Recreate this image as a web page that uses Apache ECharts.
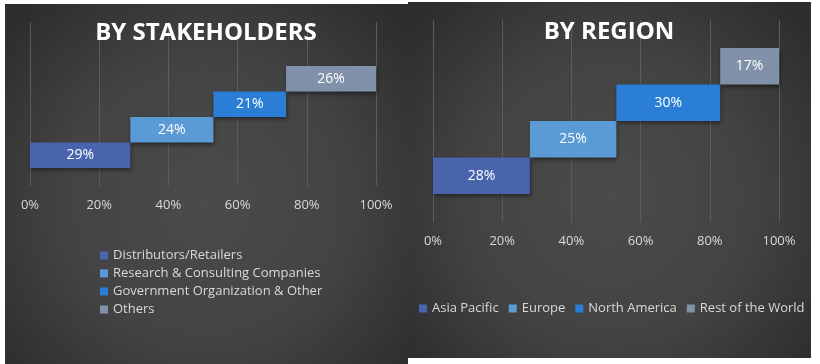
<!DOCTYPE html>
<html>
<head>
<meta charset="utf-8">
<script src="https://cdn.jsdelivr.net/npm/echarts@6/dist/echarts.min.js"></script>
<style>
html,body{margin:0;padding:0;background:#ffffff;}
#c{width:820px;height:364px;}
</style>
</head>
<body>
<div id="c"></div>
<script>
// ---- data ----
const stakeTitle = 'BY STAKEHOLDERS';
const stakeCategories = ['Distributors/Retailers', 'Research & Consulting Companies', 'Government Organization & Other', 'Others'];
const stakeValues = [29, 24, 21, 26];

const regionTitle = 'BY REGION';
const regionCategories = ['Asia Pacific', 'Europe', 'North America', 'Rest of the World'];
const regionValues = [28, 25, 30, 17];

const axisMin = 0, axisMax = 100, axisStep = 20;

// ---- styles ----
const barColors = ['#4964ad', '#5b9bd5', '#2a7ed6', '#8191a9'];
const textColor = '#d9d9d9';
const gridLineColor = '#5c5c5c';
const fontFamily = '"Open Sans", "DejaVu Sans", sans-serif';

function offsets(vals) {
  const out = [];
  let s = 0;
  for (const v of vals) { out.push(s); s += v; }
  return out;
}

function makeSeries(cats, vals, xIdx, yIdx, stackName, labelSize) {
  const n = cats.length;
  const list = [{
    type: 'bar', name: stackName + '_base', stack: stackName,
    xAxisIndex: xIdx, yAxisIndex: yIdx,
    data: offsets(vals),
    itemStyle: { color: 'transparent' },
    emphasis: { disabled: true },
    silent: true,
    barWidth: '100%'
  }];
  cats.forEach((c, i) => {
    const d = [];
    for (let k = 0; k < n; k++) d.push(k === i ? vals[i] : '-');
    list.push({
      type: 'bar', name: c, stack: stackName,
      xAxisIndex: xIdx, yAxisIndex: yIdx,
      data: d,
      barWidth: '100%',
      itemStyle: {
        color: barColors[i],
        shadowColor: 'rgba(0,0,0,0.45)', shadowBlur: 4, shadowOffsetX: 1, shadowOffsetY: 2
      },
      label: {
        show: true, position: 'inside', formatter: '{c}%',
        color: '#ffffff', fontSize: labelSize, fontFamily: fontFamily
      }
    });
  });
  return list;
}

function valueAxis(gridIndex, showLabels) {
  return {
    type: 'value', gridIndex: gridIndex, min: axisMin, max: axisMax, interval: axisStep,
    axisLine: { show: false }, axisTick: { show: false },
    splitLine: { show: showLabels, lineStyle: { color: gridLineColor, width: 1 } },
    axisLabel: { show: showLabels, formatter: '{value}%', color: textColor, fontSize: 13, fontFamily: fontFamily, margin: 13 }
  };
}
function catAxis(gridIndex, cats) {
  return {
    type: 'category', gridIndex: gridIndex, data: cats.map((c, i) => i), show: false,
    axisLine: { show: false }, axisTick: { show: false }, axisLabel: { show: false }, splitLine: { show: false }
  };
}

const bgFill = {
  type: 'radial', x: 0.5, y: 0.55, r: 0.72,
  colorStops: [{ offset: 0, color: '#4b4b4b' }, { offset: 0.55, color: '#434343' }, { offset: 1, color: '#2e2e2e' }]
};

const chart = echarts.init(document.getElementById('c'));
chart.setOption({
  animation: false,
  graphic: [
    { type: 'rect', shape: { x: 5, y: 4, width: 403, height: 360 }, style: { fill: bgFill }, z: -10, silent: true },
    { type: 'rect', shape: { x: 408, y: 2, width: 403, height: 356 }, style: { fill: bgFill }, z: -10, silent: true },
    { type: 'text', x: 206, y: 33, z: 10, style: { text: stakeTitle, fill: '#ffffff', font: 'bold 24px ' + fontFamily, textAlign: 'center', textVerticalAlign: 'middle', shadowColor: 'rgba(0,0,0,0.7)', shadowBlur: 4, shadowOffsetX: 1, shadowOffsetY: 2 } },
    { type: 'text', x: 609, y: 32, z: 10, style: { text: regionTitle, fill: '#ffffff', font: 'bold 24px ' + fontFamily, textAlign: 'center', textVerticalAlign: 'middle', shadowColor: 'rgba(0,0,0,0.7)', shadowBlur: 4, shadowOffsetX: 1, shadowOffsetY: 2 } }
  ],
  grid: [
    { left: 30, width: 346, top: 22, height: 164 },
    { left: 30, width: 346, top: 66, height: 102 },
    { left: 433, width: 346, top: 20, height: 202 },
    { left: 433, width: 346, top: 48, height: 146 }
  ],
  xAxis: [valueAxis(0, true), valueAxis(1, false), valueAxis(2, true), valueAxis(3, false)],
  yAxis: [catAxis(0, stakeCategories), catAxis(1, stakeCategories), catAxis(2, regionCategories), catAxis(3, regionCategories)],
  legend: [
    {
      data: stakeCategories, orient: 'vertical', left: 100, top: 249, itemGap: 5, padding: 0,
      icon: 'rect', itemWidth: 8, itemHeight: 8,
      textStyle: { color: textColor, fontSize: 13, fontFamily: fontFamily }, selectedMode: false
    },
    {
      data: regionCategories, orient: 'horizontal', left: 419, top: 302, itemGap: 10, padding: 0,
      icon: 'rect', itemWidth: 8, itemHeight: 8,
      textStyle: { color: textColor, fontSize: 13, fontFamily: fontFamily }, selectedMode: false
    }
  ],
  series: [].concat(
    makeSeries(stakeCategories, stakeValues, 1, 1, 'L', 14),
    makeSeries(regionCategories, regionValues, 3, 3, 'R', 14)
  )
});
</script>
</body>
</html>
